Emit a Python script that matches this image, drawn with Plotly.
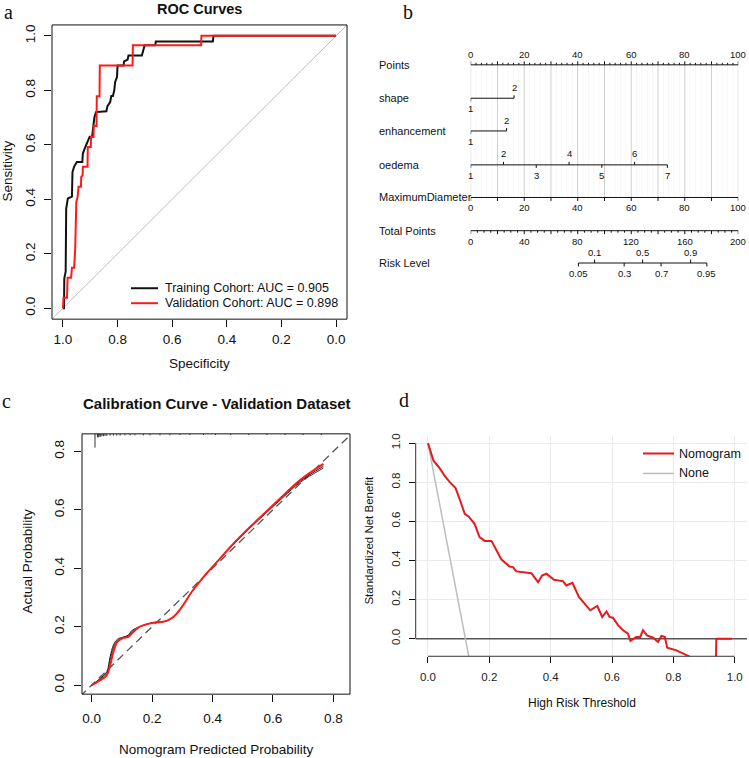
import plotly.graph_objects as go

W, H = 749, 758
SANS = "Liberation Sans"
SERIF = "Liberation Serif"

# ---------------- (a) ROC curves ----------------
train_spec = [1.000, 0.996, 0.995, 0.990, 0.988, 0.982, 0.967, 0.965, 0.959, 0.949,
              0.929, 0.927, 0.918, 0.910, 0.902, 0.893, 0.885, 0.879, 0.841, 0.837,
              0.827, 0.823, 0.817, 0.812, 0.809, 0.802, 0.800, 0.778, 0.776, 0.763,
              0.760, 0.711, 0.705, 0.701, 0.662, 0.660, 0.451, 0.449, 0.000]
train_sens = [0.000, 0.000, 0.110, 0.134, 0.366, 0.403, 0.410, 0.500, 0.520, 0.537,
              0.537, 0.568, 0.592, 0.610, 0.630, 0.630, 0.700, 0.720, 0.723, 0.742,
              0.757, 0.779, 0.779, 0.800, 0.830, 0.849, 0.891, 0.891, 0.906, 0.913,
              0.928, 0.928, 0.946, 0.965, 0.965, 0.979, 0.979, 1.000, 1.000]
valid_spec = [1.000, 0.998, 0.985, 0.983, 0.970, 0.967, 0.959, 0.955, 0.951, 0.946,
              0.943, 0.934, 0.933, 0.928, 0.927, 0.910, 0.909, 0.898, 0.897, 0.888,
              0.887, 0.877, 0.876, 0.866, 0.865, 0.745, 0.744, 0.494, 0.493, 0.000]
valid_sens = [0.000, 0.039, 0.039, 0.112, 0.112, 0.149, 0.149, 0.220, 0.390, 0.410,
              0.446, 0.446, 0.482, 0.488, 0.519, 0.519, 0.592, 0.592, 0.629, 0.629,
              0.669, 0.669, 0.778, 0.778, 0.891, 0.891, 0.965, 0.965, 1.000, 1.000]
roc_ticks = [1.0, 0.8, 0.6, 0.4, 0.2, 0.0]
roc_legend = ["Training Cohort: AUC = 0.905", "Validation Cohort: AUC = 0.898"]

# ---------------- (b) nomogram ----------------
nomo_labels = ["Points", "shape", "enhancement", "oedema", "MaximumDiameter",
               "Total Points", "Risk Level"]
points_minor = list(range(0, 101, 2))
points_major = list(range(0, 101, 10))
points_lab = [0, 20, 40, 60, 80, 100]
shape_pos = [0, 16.2]
shape_lab = ["1", "2"]
enh_pos = [0, 13.4]
enh_lab = ["1", "2"]
oedema_pos = [0, 12.25, 24.5, 36.75, 49.0, 61.25, 73.5]
oedema_lab = ["1", "2", "3", "4", "5", "6", "7"]
diam_ticks = list(range(0, 101, 10))
diam_lab = [0, 20, 40, 60, 80, 100]
total_minor = list(range(0, 201, 5))
total_lab = [0, 40, 80, 120, 160, 200]
risk_total = [80.5, 92.6, 114.7, 128.5, 142.3, 164.4, 176.5]
risk_lab = ["0.05", "0.1", "0.3", "0.5", "0.7", "0.9", "0.95"]

# ---------------- (c) calibration ----------------
cal_x = [0.0, 0.028, 0.05, 0.061, 0.072, 0.085, 0.105, 0.121, 0.132, 0.154, 0.177,
         0.204, 0.226, 0.248, 0.27, 0.298, 0.331, 0.37, 0.414, 0.469, 0.524, 0.579,
         0.634, 0.69, 0.767]
cal_red = [0.0, 0.017, 0.034, 0.068, 0.114, 0.148, 0.162, 0.165, 0.176, 0.197, 0.207,
           0.214, 0.216, 0.22, 0.233, 0.267, 0.319, 0.37, 0.421, 0.484, 0.541, 0.595,
           0.649, 0.702, 0.757]
cal_black1 = [0.0, 0.023, 0.046, 0.097, 0.137, 0.157, 0.165, 0.171, 0.186, 0.198, 0.207,
              0.214, 0.216, 0.22, 0.233, 0.267, 0.319, 0.37, 0.421, 0.483, 0.540, 0.593,
              0.646, 0.698, 0.749]
cal_black2 = [0.0, 0.02, 0.04, 0.085, 0.128, 0.152, 0.163, 0.168, 0.18, 0.197, 0.207,
              0.214, 0.216, 0.22, 0.233, 0.267, 0.319, 0.37, 0.421, 0.482, 0.538, 0.591,
              0.643, 0.694, 0.743]
rug_x = [0.011, 0.019, 0.022, 0.025, 0.030, 0.034, 0.039, 0.044, 0.050, 0.061, 0.072,
         0.083, 0.094, 0.110, 0.127, 0.143, 0.171, 0.193, 0.226, 0.259, 0.292, 0.325,
         0.37, 0.41, 0.46, 0.52, 0.58, 0.64, 0.70, 0.76]
rug_h = [0.047, 0.012, 0.012, 0.010, 0.010, 0.008, 0.008, 0.007, 0.007, 0.006, 0.006,
         0.006, 0.006, 0.005, 0.005, 0.005, 0.005, 0.005, 0.005, 0.005, 0.004, 0.004,
         0.004, 0.004, 0.004, 0.004, 0.004, 0.004, 0.004, 0.004]
cal_ticks = [0.0, 0.2, 0.4, 0.6, 0.8]

# ---------------- (d) decision curve ----------------
dca_x = [0.0, 0.018, 0.038, 0.054, 0.071, 0.09, 0.103, 0.12, 0.133, 0.152, 0.168,
         0.185, 0.207, 0.223, 0.239, 0.266, 0.277, 0.288, 0.31, 0.337, 0.359, 0.372,
         0.386, 0.411, 0.424, 0.44, 0.451, 0.471, 0.492, 0.511, 0.529, 0.552, 0.568,
         0.582, 0.592, 0.603, 0.62, 0.636, 0.652, 0.66, 0.679, 0.692, 0.701, 0.714,
         0.734, 0.75, 0.761, 0.772, 0.78, 0.81, 0.851, 0.90, 0.938, 0.940, 0.991]
dca_nomo = [1.0, 0.91, 0.872, 0.833, 0.80, 0.77, 0.714, 0.638, 0.624, 0.587, 0.519,
            0.50, 0.50, 0.449, 0.406, 0.369, 0.366, 0.344, 0.34, 0.335, 0.289, 0.323,
            0.332, 0.301, 0.298, 0.294, 0.272, 0.286, 0.213, 0.179, 0.145, 0.167, 0.111,
            0.139, 0.111, 0.107, 0.068, 0.043, 0.026, -0.012, 0.009, 0.009, 0.043, 0.017,
            0.005, -0.017, 0.014, 0.009, -0.046, -0.06, -0.09, -0.15, -0.2, 0.0, 0.0]
none_x = [0.0, 0.2]
none_y = [1.0, -0.64]
dca_ticks = [0.0, 0.2, 0.4, 0.6, 0.8, 1.0]
dca_legend = ["Nomogram", "None"]


def px(x):
    return x / W


def py(y):
    return 1 - y / H


def fmt(v):
    return f"{v:.1f}"


fig = go.Figure()

# ---------- panel a traces ----------
fig.add_trace(go.Scatter(x=[1.1, -0.1], y=[-0.1, 1.1], mode="lines",
                         line=dict(color="#bdbdbd", width=1), xaxis="x", yaxis="y",
                         showlegend=False, hoverinfo="skip"))
fig.add_trace(go.Scatter(x=train_spec, y=train_sens, mode="lines",
                         line=dict(color="#111111", width=2), xaxis="x", yaxis="y",
                         showlegend=False))
fig.add_trace(go.Scatter(x=valid_spec, y=valid_sens, mode="lines",
                         line=dict(color="#ff1a1a", width=2), xaxis="x", yaxis="y",
                         showlegend=False))

# ---------- panel b (nomogram) traces ----------
y_rows = {"Points": 63, "shape": 96.5, "enhancement": 129.3, "oedema": 163.3,
          "MaximumDiameter": 196, "Total Points": 229.3, "Risk Level": 261.7}
yP, yD = y_rows["Points"], y_rows["MaximumDiameter"]

gx_minor, gy_minor = [], []
for v in points_minor:
    if v % 10:
        gx_minor += [v, v, None]
        gy_minor += [yP, yD, None]
gx_major, gy_major = [], []
for v in points_major:
    gx_major += [v, v, None]
    gy_major += [yP, yD, None]
fig.add_trace(go.Scatter(x=gx_minor, y=gy_minor, mode="lines",
                         line=dict(color="#f7f7f7", width=1), xaxis="x5", yaxis="y5",
                         showlegend=False, hoverinfo="skip"))
fig.add_trace(go.Scatter(x=gx_major, y=gy_major, mode="lines",
                         line=dict(color="#cfcfcf", width=1), xaxis="x5", yaxis="y5",
                         showlegend=False, hoverinfo="skip"))

seg_x, seg_y = [], []
annots = []


def hline(x0, x1, y):
    seg_x.extend([x0, x1, None])
    seg_y.extend([y, y, None])


def tick(x, y, length):
    seg_x.extend([x, x, None])
    seg_y.extend([y, y + length, None])


def nlabel(x, y, text, size=9.5):
    annots.append(dict(x=x, y=y, xref="x5", yref="y5", text=text, showarrow=False,
                       font=dict(family=SANS, size=size, color="#111111"),
                       xanchor="center", yanchor="middle"))


# Points axis (labels above, ticks up)
hline(0, 100, yP)
for v in points_minor:
    tick(v, yP, -3.5 if v % 10 == 0 else -2)
for v in points_lab:
    nlabel(v, yP - 10.5, str(v))

# shape / enhancement
for pos, lab, key in [(shape_pos, shape_lab, "shape"), (enh_pos, enh_lab, "enhancement")]:
    yy = y_rows[key]
    hline(pos[0], pos[-1], yy)
    tick(pos[0], yy, 3)
    tick(pos[1], yy, -3)
    nlabel(pos[0], yy + 10.5, lab[0])
    nlabel(pos[1], yy - 10.5, lab[1])

# oedema
yy = y_rows["oedema"]
hline(oedema_pos[0], oedema_pos[-1], yy)
for i, (p, lab) in enumerate(zip(oedema_pos, oedema_lab)):
    if i % 2 == 0:
        tick(p, yy, 3)
        nlabel(p, yy + 10.5, lab)
    else:
        tick(p, yy, -3)
        nlabel(p, yy - 11, lab)

# MaximumDiameter
hline(0, 100, yD)
for v in diam_ticks:
    tick(v, yD, 3.5)
for v in diam_lab:
    nlabel(v, yD + 10.5, str(v))

# Total points (mapped 0-200 -> 0-100 points scale)
yT = y_rows["Total Points"]
hline(0, 100, yT)
for v in total_minor:
    tick(v / 2, yT, 3.5 if v % 20 == 0 else 2)
for v in total_lab:
    nlabel(v / 2, yT + 10.5, str(v))

# Risk level
yR = y_rows["Risk Level"]
hline(risk_total[0] / 2, risk_total[-1] / 2, yR)
for i, (t, lab) in enumerate(zip(risk_total, risk_lab)):
    if i % 2 == 0:
        tick(t / 2, yR, 3.5)
        nlabel(t / 2, yR + 11, lab)
    else:
        tick(t / 2, yR, -3.5)
        nlabel(t / 2, yR - 11, lab)

fig.add_trace(go.Scatter(x=seg_x, y=seg_y, mode="lines",
                         line=dict(color="#111111", width=1), xaxis="x5", yaxis="y5",
                         showlegend=False, hoverinfo="skip"))

for name in nomo_labels:
    annots.append(dict(x=px(377), y=py(y_rows[name]), xref="paper", yref="paper",
                       text=name, showarrow=False, xanchor="left", yanchor="middle",
                       font=dict(family=SANS, size=11, color="#111111")))

# ---------- panel c traces ----------
rx, ry = [], []
top = 0.860
for x, h in zip(rug_x, rug_h):
    rx += [x, x, None]
    ry += [top, top - h, None]
fig.add_trace(go.Scatter(x=rx, y=ry, mode="lines", line=dict(color="#333333", width=1),
                         xaxis="x3", yaxis="y3", showlegend=False, hoverinfo="skip"))
fig.add_trace(go.Scatter(x=[-0.1, 0.95], y=[-0.1, 0.95], mode="lines",
                         line=dict(color="#555555", width=1.3, dash="8px,5px"),
                         xaxis="x3", yaxis="y3", showlegend=False, hoverinfo="skip"))
fig.add_trace(go.Scatter(x=cal_x, y=cal_black2, mode="lines", line=dict(color="#333333", width=1),
                         xaxis="x3", yaxis="y3", showlegend=False, line_shape="spline"))
fig.add_trace(go.Scatter(x=cal_x, y=cal_black1, mode="lines", line=dict(color="#111111", width=1),
                         xaxis="x3", yaxis="y3", showlegend=False, line_shape="spline"))
fig.add_trace(go.Scatter(x=cal_x, y=cal_red, mode="lines", line=dict(color="#ff1a1a", width=2),
                         xaxis="x3", yaxis="y3", showlegend=False, line_shape="spline"))

# ---------- panel d traces ----------
fig.add_trace(go.Scatter(x=[-0.1, 1.1], y=[0, 0], mode="lines",
                         line=dict(color="#555555", width=1.5), xaxis="x4", yaxis="y4",
                         showlegend=False, hoverinfo="skip"))
fig.add_trace(go.Scatter(x=none_x, y=none_y, mode="lines",
                         line=dict(color="#bdbdbd", width=1.5), xaxis="x4", yaxis="y4",
                         showlegend=False))
fig.add_trace(go.Scatter(x=dca_x, y=dca_nomo, mode="lines",
                         line=dict(color="#e8181c", width=2), xaxis="x4", yaxis="y4",
                         showlegend=False))

# ---------- axes ----------
tickfont = dict(family=SANS, size=13.5, color="#111111")


def r_axis(domain, rng, vals, angle=0, grid=False, font=tickfont, ticklen=7, standoff=4):
    return dict(domain=domain, range=rng, tickvals=vals, ticktext=[fmt(v) for v in vals],
                ticks="outside", ticklen=ticklen, tickwidth=1, tickcolor="#111111",
                showline=False, zeroline=False, showgrid=grid, gridcolor="#ebebeb",
                tickangle=angle, tickfont=font, ticklabelstandoff=standoff, fixedrange=True)


fig.update_layout(
    width=W, height=H, margin=dict(l=0, r=0, t=0, b=0),
    paper_bgcolor="white", plot_bgcolor="white", showlegend=False,
    xaxis=r_axis([px(52), px(347)], [1.04, -0.04], roc_ticks, standoff=1),
    yaxis=r_axis([py(318), py(23)], [-0.04, 1.04], roc_ticks, angle=-90),
    xaxis3=r_axis([px(82), px(350)], [-0.032, 0.855], cal_ticks, standoff=5),
    yaxis3=r_axis([py(694), py(433)], [-0.0307, 0.860], cal_ticks, angle=-90, standoff=5),
    xaxis4=r_axis([px(415.7), px(747)], [-0.04, 1.04], dca_ticks, grid=True,
                  font=dict(family=SANS, size=11.5, color="#222222"), ticklen=6),
    yaxis4=r_axis([py(656), py(435)], [-0.09, 1.037], dca_ticks, angle=-90, grid=True,
                  font=dict(family=SANS, size=11.5, color="#222222"), ticklen=6),
    xaxis5=dict(domain=[px(470.7), px(738.3)], range=[0, 100], visible=False, fixedrange=True),
    yaxis5=dict(domain=[py(290), py(30)], range=[290, 30], visible=False, fixedrange=True),
)
fig.update_layout(yaxis3=dict(anchor="x3"), xaxis3=dict(anchor="y3"),
                  yaxis4=dict(anchor="x4"), xaxis4=dict(anchor="y4"),
                  yaxis5=dict(anchor="x5"), xaxis5=dict(anchor="y5"))

shapes = []
for xr, yr in [("x", "y"), ("x3", "y3")]:
    shapes.append(dict(type="rect", xref=f"{xr} domain", yref=f"{yr} domain",
                       x0=0, x1=1, y0=0, y1=1, line=dict(color="#111111", width=1)))
shapes.append(dict(type="line", xref="x4", yref="y4 domain", x0=0, x1=1, y0=0, y1=0,
                   line=dict(color="#333333", width=1)))
shapes.append(dict(type="line", xref="x4 domain", yref="y4", x0=0, x1=0, y0=0, y1=1,
                   line=dict(color="#333333", width=1)))
shapes.append(dict(type="line", xref="paper", yref="paper", x0=px(131), x1=px(158),
                   y0=py(287), y1=py(287), line=dict(color="#111111", width=2)))
shapes.append(dict(type="line", xref="paper", yref="paper", x0=px(131), x1=px(158),
                   y0=py(302), y1=py(302), line=dict(color="#ff1a1a", width=2)))
shapes.append(dict(type="line", xref="paper", yref="paper", x0=px(643), x1=px(674),
                   y0=py(452.7), y1=py(452.7), line=dict(color="#e8181c", width=2)))
shapes.append(dict(type="line", xref="paper", yref="paper", x0=px(643), x1=px(674),
                   y0=py(472.7), y1=py(472.7), line=dict(color="#bdbdbd", width=1.5)))


def ptext(x, y, text, size, family=SANS, angle=0, xanchor="center", color="#111111"):
    annots.append(dict(x=px(x), y=py(y), xref="paper", yref="paper", text=text,
                       showarrow=False, xanchor=xanchor, yanchor="middle", textangle=angle,
                       font=dict(family=family, size=size, color=color)))


ptext(8, 10, "a", 20, SERIF)
ptext(408, 10, "b", 20, SERIF)
ptext(6, 400, "c", 20, SERIF)
ptext(404, 399, "d", 20, SERIF)
ptext(199, 7, "<b>ROC Curves</b>", 14.5)
ptext(199, 362, "Specificity", 13.5)
ptext(8, 170, "Sensitivity", 13.5, angle=-90)
ptext(163, 287, roc_legend[0], 12.5, xanchor="left")
ptext(163, 302, roc_legend[1], 12.5, xanchor="left")
ptext(217, 403, "<b>Calibration Curve - Validation Dataset</b>", 15)
ptext(217, 749, "Nomogram Predicted Probability", 13.5)
ptext(28, 560, "Actual Probability", 13.5, angle=-90)
ptext(581.7, 703, "High Risk Threshold", 12)
ptext(369, 540, "Standardized Net Benefit", 11.5, angle=-90)
ptext(677, 452.7, dca_legend[0], 12.5, xanchor="left")
ptext(677, 472.7, dca_legend[1], 12.5, xanchor="left")

fig.update_layout(shapes=shapes, annotations=annots)
fig.write_html("out.html", config={"displayModeBar": False},
               post_script="document.body.style.margin='0';document.body.style.padding='0';")
